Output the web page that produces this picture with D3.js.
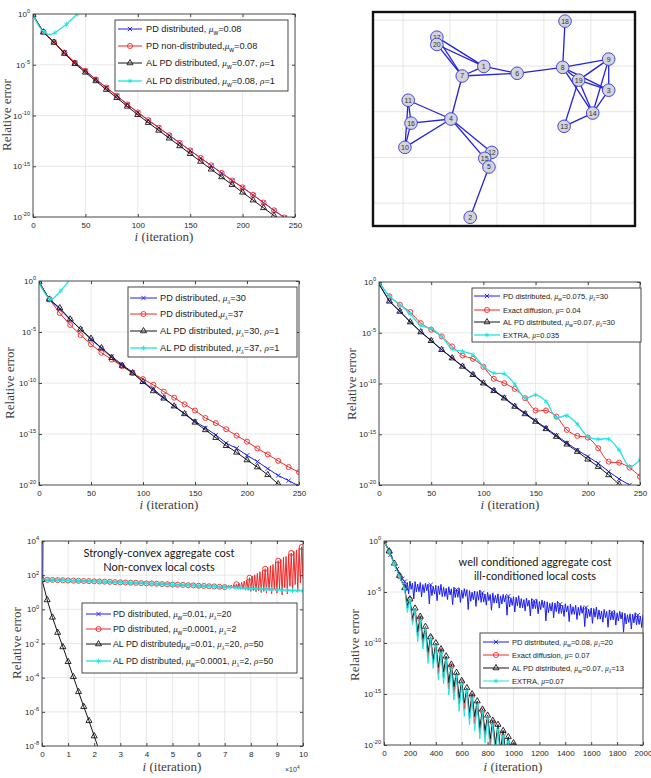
<!DOCTYPE html>
<html>
<head>
<meta charset="utf-8">
<script src="https://cdn.jsdelivr.net/npm/d3@7"></script>
<style>
  body { margin: 0; background: #fff; }
  svg { display: block; }
</style>
</head>
<body>
<svg id="fig" width="651" height="778"></svg>
<script>
// Six-panel figure: five log-scale convergence plots plus the network graph.
// All series values are log10(relative error).

// ---------- data: panel A (mu_w comparison) ----------
const iterA = d3.range(0, 251, 10);
const pdDistA = [-0.15,-1.78,-2.76,-3.8,-4.79,-5.6,-6.44,-7.25,-8.06,-8.9,-9.71,-10.46,-11.2,-11.95,-12.7,-13.45,-14.19,-14.93,-15.67,-16.4,-17.1,-17.84,-18.6,-19.35,-20.06,-20.8];
const pdNonDistA = [-0.1,-1.77,-2.75,-3.8,-4.8,-5.6,-6.45,-7.25,-8.05,-8.9,-9.7,-10.45,-11.2,-11.95,-12.7,-13.44,-14.18,-14.92,-15.66,-16.4,-17.08,-17.82,-18.58,-19.34,-20.05,-20.8];
const alPd07A = [-0.1,-1.8,-2.8,-3.9,-4.9,-5.75,-6.6,-7.45,-8.25,-9.1,-9.93,-10.7,-11.47,-12.24,-13.0,-13.77,-14.53,-15.3,-16.06,-16.82,-17.57,-18.34,-19.1,-19.87,-20.63,-21.4];
const alPd08IterA = [0,3,6,9,11,14,17,21,25,28,32,35,38,42,46];
const alPd08A = [-0.1,-0.7,-1.25,-1.65,-1.8,-1.98,-2.02,-1.85,-1.55,-1.3,-1.02,-0.72,-0.42,-0.03,0.4];

// ---------- data: panel C (mu_lambda comparison) ----------
const iterC = d3.range(0, 251, 10);
const pd30C = [-0.1,-1.8,-2.75,-3.8,-4.74,-5.74,-6.57,-7.4,-8.2,-8.95,-9.9,-10.6,-11.44,-12.27,-13.0,-13.76,-14.4,-15.1,-15.9,-16.4,-17.1,-17.7,-18.4,-19.07,-19.57,-20.1];
const pd37C = [-0.1,-1.8,-3.15,-4.31,-5.3,-6.2,-7.03,-7.7,-8.36,-9.02,-9.62,-10.18,-10.85,-11.44,-12.1,-12.7,-13.43,-13.93,-14.53,-15.16,-15.75,-16.42,-17.0,-17.64,-18.24,-18.74];
const alPd30C = [-0.1,-1.8,-2.65,-3.75,-4.74,-5.64,-6.57,-7.53,-8.29,-9.02,-9.88,-10.78,-11.5,-12.27,-13.03,-13.86,-14.6,-15.36,-16.15,-16.8,-17.55,-18.24,-19.0,-19.9,-20.7,-21.5];
const alPd37IterC = [0,3,6,9,11,13,15,18,21,24,27,30,33];
const alPd37C = [-0.2,-0.75,-1.25,-1.65,-1.8,-1.78,-1.6,-1.3,-0.95,-0.6,-0.2,0.2,0.6];

// ---------- data: panel D (comparison with exact diffusion / EXTRA) ----------
const iterD = d3.range(0, 251, 10);
const pdDistD = [-0.2,-1.9,-2.88,-3.93,-4.9,-5.76,-6.65,-7.47,-8.28,-9.1,-9.92,-10.66,-11.38,-12.2,-12.92,-13.66,-14.38,-15.12,-15.86,-16.56,-17.2,-17.86,-18.68,-19.4,-20.0,-20.7];
const exactDiffD = [0,-1.4,-2.24,-2.96,-4.05,-4.7,-5.36,-6.35,-7.24,-7.57,-8.36,-9.54,-9.97,-10.53,-11.45,-12.66,-12.66,-13.26,-14.57,-15.16,-15.33,-16.38,-17.7,-17.8,-18.29,-19.18];
const alPdD = [-0.2,-1.9,-2.9,-3.95,-4.93,-5.79,-6.68,-7.5,-8.32,-9.14,-9.97,-10.72,-11.45,-12.27,-13.0,-13.75,-14.47,-15.23,-15.99,-16.71,-17.47,-18.19,-19.01,-19.93,-20.8,-21.6];
const extraD = [0,-1.4,-2.24,-3.16,-4.28,-4.6,-5.36,-6.58,-6.84,-7.17,-8.32,-8.98,-9.05,-10.07,-11.45,-11.12,-11.78,-13.36,-13.16,-14.01,-15.23,-15.49,-15.49,-16.55,-18.19,-17.53];

// ---------- data: panel E (non-convex local costs), x in units of 1e4 ----------
const pdFastIterE = [0, 0.03, 0.04];
const pdFastE = [1.74, 1.9, 4.6];
const pdSlowIterE = [0,0.2,0.4,0.6,0.8,1.0,1.2,1.4,1.6,1.8,2.0,2.2,2.4,2.6,2.8,3.0,3.2,3.4,3.6,3.8,4.0,4.2,4.4,4.6,4.8,5.0,5.2,5.4,5.6,5.8,6.0,6.2,6.4,6.6,6.8,
  7.0,7.05,7.1,7.15,7.2,7.25,7.3,7.35,7.4,7.45,7.5,7.55,7.6,7.65,7.7,7.75,7.8,7.85,7.9,7.95,8.0,8.05,8.1,8.15,8.2,8.25,8.3,8.35,8.4,8.45,8.5,8.55,8.6,8.65,8.7,8.75,8.8,8.85,8.9,8.95,
  9.0,9.05,9.1,9.15,9.2,9.25,9.3,9.35,9.4,9.45,9.5,9.55,9.6,9.65,9.7,9.75,9.8,9.85,9.9,9.95,10.0];
const pdSlowE = [1.74,1.73,1.72,1.71,1.70,1.69,1.68,1.67,1.66,1.65,1.64,1.63,1.62,1.61,1.59,1.58,1.57,1.56,1.55,1.53,1.52,1.51,1.50,1.48,1.47,1.45,1.44,1.43,1.41,1.40,1.38,1.37,1.35,1.34,1.32,
  1.30,1.38,1.28,1.40,1.27,1.42,1.26,1.44,1.25,1.47,1.22,1.52,1.20,1.58,1.18,1.66,1.15,1.75,1.12,1.85,1.05,1.95,1.10,2.02,1.02,2.10,1.08,2.20,0.98,2.28,1.05,2.38,0.95,2.45,1.10,2.55,0.92,2.62,1.15,2.78,
  0.95,2.85,1.20,2.92,0.85,3.05,1.25,3.10,0.90,3.22,1.35,3.30,1.00,3.40,1.45,3.48,1.10,3.58,1.55,3.65,1.80];
const pdSlowMarksE = [0,0.2,0.4,0.6,0.8,1.0,1.2,1.4,1.6,1.8,2.0,2.2,2.4,2.6,2.8,3.0,3.2,3.4,3.6,3.8,4.0,4.2,4.4,4.6,4.8,5.0,5.2,5.4,5.6,5.8,6.0,6.2,6.4,6.6,6.8,7.0,7.45,7.95,8.55,9.05,9.55,9.95];
const alFastIterE = [0,0.2,0.4,0.6,0.8,1.0,1.2,1.4,1.6,1.8,2.0,2.2];
const alFastE = [1.74,0.55,-0.47,-1.36,-2.2,-3.07,-3.95,-4.83,-5.7,-6.52,-7.42,-8.3];
const alSlowIterE = d3.range(0, 10.01, 0.2);
const alSlowE = [1.74,1.73,1.72,1.71,1.70,1.69,1.68,1.67,1.66,1.65,1.64,1.63,1.62,1.61,1.59,1.58,1.57,1.56,1.55,1.53,1.52,1.51,1.50,1.48,1.47,1.45,1.44,1.43,1.41,1.40,1.38,1.37,1.35,1.34,1.32,1.30,1.29,1.27,1.26,1.24,1.22,1.21,1.19,1.18,1.16,1.15,1.13,1.12,1.10,1.09,1.08];

// ---------- data: panel F (ill-conditioned local costs) ----------
const pdIterF = [0,20,50,80,100,120,140].concat(d3.range(160, 2001, 10));
const pdF = [0,-0.5,-1.35,-2.2,-2.75,-3.25,-3.7,
  -3.98,-4.88,-4.08,-5.18,-3.93,-4.73,-4.13,-5.68,-3.98,-4.98,
  -4.22,-4.97,-4.07,-5.47,-4.27,-5.07,-4.12,-4.87,-4.22,-6.17,
  -4.30,-5.35,-4.45,-5.20,-4.35,-5.85,-4.40,-5.25,-4.25,-5.45,
  -4.54,-5.44,-4.64,-5.74,-4.49,-5.29,-4.69,-6.24,-4.54,-5.54,
  -4.77,-5.52,-4.62,-6.02,-4.82,-5.62,-4.67,-5.42,-4.77,-6.72,
  -4.86,-5.91,-5.01,-5.76,-4.91,-6.41,-4.96,-5.81,-4.81,-6.01,
  -5.09,-5.99,-5.19,-6.29,-5.04,-5.84,-5.24,-6.79,-5.09,-6.09,
  -5.33,-6.08,-5.18,-6.58,-5.38,-6.18,-5.23,-5.98,-5.33,-7.28,
  -5.41,-6.46,-5.56,-6.31,-5.46,-6.96,-5.51,-6.36,-5.36,-6.56,
  -5.65,-6.55,-5.75,-6.85,-5.60,-6.40,-5.80,-7.35,-5.65,-6.65,
  -5.88,-6.63,-5.73,-7.13,-5.93,-6.73,-5.78,-6.53,-5.88,-7.83,
  -5.97,-7.02,-6.12,-6.87,-6.02,-7.52,-6.07,-6.92,-5.92,-7.12,
  -6.20,-7.10,-6.30,-7.40,-6.15,-6.95,-6.35,-7.90,-6.20,-7.20,
  -6.44,-7.19,-6.29,-7.69,-6.49,-7.29,-6.34,-7.09,-6.44,-8.39,
  -6.52,-7.57,-6.67,-7.42,-6.57,-8.07,-6.62,-7.47,-6.47,-7.67,
  -6.76,-7.66,-6.86,-7.96,-6.71,-7.51,-6.91,-8.46,-6.76,-7.76,
  -6.99,-7.74,-6.84,-8.24,-7.04,-7.84,-6.89,-7.64,-6.99,-8.94,
  -7.08,-8.13,-7.23,-7.98,-7.13,-8.63,-7.18,-8.03,-7.03,-8.23,
  -7.28,-8.18,-7.38,-8.48,-7.23];
const iterF = d3.range(0, 1041, 20);
const exactDiffF = [0,-0.52,-1.05,-1.65,-2.25,-2.85,-3.45,-4.05,-4.65,-6.6,-5.75,-7.9,-6.7,-9.3,-7.6,-10.1,-8.55,-11.4,-9.5,-12.0,-10.15,-13.0,-10.8,-13.4,-11.5,-14.5,-12.3,-14.9,-13.1,-16.0,-13.85,-16.5,-14.55,-17.4,-15.2,-17.9,-15.9,-18.8,-16.65,-19.2,-17.25,-20.0,-17.8,-20.4,-18.3,-21.0,-18.85,-21.3,-19.45,-21.8,-20.05,-22.0,-20.7];
const alPdF = [0,-0.5,-1.0,-1.6,-2.2,-2.8,-3.4,-4.0,-4.6,-6.3,-5.7,-7.6,-6.6,-8.9,-7.4,-9.6,-8.4,-10.9,-9.4,-11.6,-10.0,-12.4,-10.6,-12.8,-11.3,-13.9,-12.1,-14.3,-12.9,-15.4,-13.7,-15.9,-14.4,-16.8,-15.0,-17.2,-15.7,-18.3,-16.5,-18.6,-17.1,-19.4,-17.6,-19.9,-18.0,-20.6,-18.6,-20.8,-19.2,-21.3,-19.8,-21.5,-20.5];
const extraF = [0,-0.55,-1.1,-1.7,-2.3,-2.9,-3.5,-4.1,-4.7,-7.0,-5.8,-8.2,-6.8,-9.9,-7.8,-10.6,-8.7,-12.0,-9.6,-12.5,-10.3,-13.6,-11.0,-14.0,-11.7,-15.1,-12.5,-15.6,-13.3,-16.7,-14.0,-17.2,-14.7,-18.0,-15.4,-18.6,-16.1,-19.4,-16.8,-19.8,-17.4,-20.6,-18.0,-21.0,-18.5,-21.5,-19.1,-21.8,-19.7,-22.4,-20.3,-22.6,-21.0];

// ---------- data: network graph ----------
const nodeIds = [18,17,20,1,6,7,8,9,19,3,14,13,11,16,4,10,12,15,5,2];
const nodeX = [4.45,1.72,1.72,2.72,3.43,2.26,4.40,5.38,4.74,5.38,5.04,4.43,1.11,1.17,2.02,1.04,2.89,2.74,2.83,2.43];
const nodeY = [4.98,4.63,4.47,3.99,3.84,3.78,3.97,4.15,3.69,3.47,2.97,2.68,3.25,2.75,2.84,2.22,2.11,1.98,1.79,0.69];
const edges = [[17,1],[20,1],[17,7],[20,7],[17,20],[1,7],[1,6],[7,6],[6,8],[8,18],[8,9],[8,19],[8,3],[8,14],
  [9,19],[9,3],[9,14],[19,3],[19,14],[19,13],[3,14],[14,13],[7,4],[4,11],[4,16],[4,10],[11,16],[11,10],[16,10],
  [4,12],[4,15],[12,15],[12,5],[15,5],[5,2]];

// ---------- tick values / labels ----------
const iterTicks = [0, 50, 100, 150, 200, 250];
const errTicks = [0, -5, -10, -15, -20];
const bigIterTicks = d3.range(0, 11, 1);
const wideErrTicks = [4, 2, 0, -2, -4, -6, -8];
const longIterTicks = d3.range(0, 2001, 200);
const graphGrid = [1, 2, 3, 4, 5];

const legendA = ['PD distributed, {μ}_{w}=0.08', 'PD non-distributed,{μ}_{w}=0.08', 'AL PD distributed, {μ}_{w}=0.07, {ρ}=1', 'AL PD distributed, {μ}_{w}=0.08, {ρ}=1'];
const legendC = ['PD distributed, {μ}_{λ}=30', 'PD distributed,{μ}_{λ}=37', 'AL PD distributed, {μ}_{λ}=30, {ρ}=1', 'AL PD distributed, {μ}_{λ}=37, {ρ}=1'];
const legendD = ['PD distributed, {μ}_{w}=0.075, {μ}_{λ}=30', 'Exact diffusion, {μ}= 0.04', 'AL PD distributed, {μ}_{w}=0.07, {μ}_{λ}=30', 'EXTRA, {μ}=0.035'];
const legendE = ['PD distributed, {μ}_{w}=0.01, {μ}_{λ}=20', 'PD distributed, {μ}_{w}=0.0001, {μ}_{λ}=2', 'AL PD distributed{μ}_{w}=0.01, {μ}_{λ}=20, {ρ}=50', 'AL PD distributed, {μ}_{w}=0.0001, {μ}_{λ}=2, {ρ}=50'];
const legendF = ['PD distributed, {μ}_{w}=0.08, {μ}_{λ}=20', 'Exact diffusion, {μ}= 0.07', 'AL PD distributed, {μ}_{w}=0.07, {μ}_{λ}=13', 'EXTRA, {μ}=0.07'];
const notesE = ['Strongly-convex aggregate cost', 'Non-convex local costs'];
const notesF = ['well conditioned aggregate cost', 'ill-conditioned local costs'];

// ---------- style ----------
const SANS = "'Liberation Sans', Arial, Helvetica, sans-serif";
const SERIF = "'Liberation Serif', 'Times New Roman', Times, serif";
const NOTE_FONT = "Lato, 'Open Sans', sans-serif";
const BLUE = '#1c1cf0', RED = '#f02828', BLACK = '#141414', CYAN = '#22e2e2';
const GRID = '#e2e2e2', AXIS = '#444';

const MARKERS = {
  x: { type: d3.symbolTimes || d3.symbolCross, size: 14 },
  o: { type: d3.symbolCircle, size: 20 },
  tri: { type: d3.symbolTriangle2 || d3.symbolTriangle, size: 26 },
  star: { type: d3.symbolAsterisk || d3.symbolStar, size: 16 },
};

const svg = d3.select('#fig');

// Tiny markup: {μ} -> italic serif, _{w} -> subscript, ^{5} -> superscript.
function richText(textSel, str, size) {
  const parts = str.split(/(\^\{[^}]*\}|_\{[^}]*\}|\{[^}]*\})/).filter((s) => s.length);
  let shift = 0;
  parts.forEach((p) => {
    const ts = textSel.append('tspan');
    let target = 0;
    let txt = p;
    if (p.startsWith('_{')) {
      txt = p.slice(2, -1);
      target = size * 0.32;
      ts.attr('font-size', size * 0.72);
      if (/[α-ω]/.test(txt)) ts.attr('font-family', SERIF).attr('font-style', 'italic');
    } else if (p.startsWith('^{')) {
      txt = p.slice(2, -1);
      target = -size * 0.45;
      ts.attr('font-size', size * 0.7);
    } else if (p.startsWith('{')) {
      txt = p.slice(1, -1);
      ts.attr('font-family', SERIF).attr('font-style', 'italic');
    }
    ts.text(txt);
    if (target !== shift) {
      ts.attr('dy', target - shift);
      shift = target;
    }
  });
}

function markerPath(kind) {
  const m = MARKERS[kind];
  return d3.symbol().type(m.type).size(m.size)();
}

function drawLegend(lg, series, labels) {
  const g = svg.append('g').attr('class', 'legend');
  g.append('rect')
    .attr('x', lg.x).attr('y', lg.y).attr('width', lg.w).attr('height', lg.h)
    .attr('fill', '#fff').attr('stroke', '#333').attr('stroke-width', 0.9);
  labels.forEach((label, i) => {
    const s = series[i];
    const ry = lg.rows[i];
    g.append('line')
      .attr('x1', lg.line[0]).attr('x2', lg.line[1]).attr('y1', ry).attr('y2', ry)
      .attr('stroke', s.color).attr('stroke-width', s.width || 1);
    g.append('path')
      .attr('transform', `translate(${(lg.line[0] + lg.line[1]) / 2},${ry})`)
      .attr('d', markerPath(s.marker))
      .attr('fill', 'none').attr('stroke', s.color).attr('stroke-width', 0.9);
    const t = g.append('text')
      .attr('x', lg.textX).attr('y', ry + lg.size * 0.35)
      .attr('font-family', SANS).attr('font-size', lg.size).attr('fill', '#1a1a1a');
    richText(t, label, lg.size);
  });
}

function drawLogPanel(p) {
  const { box } = p;
  const g = svg.append('g').attr('transform', `translate(${box.x},${box.y})`);
  const x = d3.scaleLinear().domain(p.xDomain).range([0, box.w]);
  const y = d3.scaleLog().domain([10 ** p.yExp[0], 10 ** p.yExp[1]]).range([box.h, 0]);
  const yTickVals = p.yTicks.map((e) => 10 ** e);

  // grid
  g.append('g').selectAll('line').data(p.xTicks).join('line')
    .attr('x1', (d) => x(d)).attr('x2', (d) => x(d)).attr('y1', 0).attr('y2', box.h)
    .attr('stroke', GRID).attr('stroke-width', 0.8);
  g.append('g').selectAll('line').data(yTickVals).join('line')
    .attr('x1', 0).attr('x2', box.w).attr('y1', (d) => y(d)).attr('y2', (d) => y(d))
    .attr('stroke', GRID).attr('stroke-width', 0.8);

  const clipId = `clip-${p.id}`;
  g.append('clipPath').attr('id', clipId)
    .append('rect').attr('width', box.w).attr('height', box.h);
  const plot = g.append('g').attr('clip-path', `url(#${clipId})`);

  p.series.forEach((s) => {
    const pts = s.x.map((xv, i) => [xv, s.y[i]]);
    const line = d3.line()
      .x((d) => x(d[0]))
      .y((d) => y(10 ** d[1]))
      .curve(s.curve || d3.curveLinear);
    plot.append('path').datum(pts)
      .attr('d', line)
      .attr('fill', 'none')
      .attr('stroke', s.color)
      .attr('stroke-width', s.width || 1)
      .attr('stroke-linejoin', 'round');
    const marked = s.markAt
      ? pts.filter((d) => s.markAt.some((m) => Math.abs(m - d[0]) < 1e-6))
      : pts;
    plot.append('g').selectAll('path').data(marked).join('path')
      .attr('transform', (d) => `translate(${x(d[0])},${y(10 ** d[1])})`)
      .attr('d', markerPath(s.marker))
      .attr('fill', 'none')
      .attr('stroke', s.color)
      .attr('stroke-width', 0.9);
  });

  // axes (MATLAB style: box on, inward ticks)
  const styleAxis = (sel) => {
    sel.attr('font-size', 8).attr('font-family', SANS).attr('color', AXIS);
    sel.select('.domain').remove();
    sel.selectAll('.tick text').attr('fill', '#262626');
  };
  g.append('g').attr('transform', `translate(0,${box.h})`)
    .call(d3.axisBottom(x).tickValues(p.xTicks).tickSize(-3).tickPadding(5).tickFormat(d3.format('d')))
    .call(styleAxis);
  g.append('g')
    .call(d3.axisTop(x).tickValues(p.xTicks).tickSize(-3).tickFormat(''))
    .call(styleAxis);
  g.append('g').attr('transform', `translate(${box.w},0)`)
    .call(d3.axisRight(y).tickValues(yTickVals).tickSize(-3).tickFormat(''))
    .call(styleAxis);
  const yAxis = g.append('g')
    .call(d3.axisLeft(y).tickValues(yTickVals).tickSize(-3).tickPadding(3).tickFormat(() => ''))
    .call(styleAxis);
  yAxis.selectAll('.tick text').each(function (d) {
    const t = d3.select(this);
    t.text(null);
    richText(t, `10^{${Math.round(Math.log10(d))}}`, 8);
  });
  g.append('rect')
    .attr('width', box.w).attr('height', box.h)
    .attr('fill', 'none').attr('stroke', AXIS).attr('stroke-width', 0.9);

  // axis titles
  const xt = svg.append('text')
    .attr('x', p.xLabel.cx).attr('y', p.xLabel.y)
    .attr('text-anchor', 'middle')
    .attr('font-family', SERIF).attr('font-size', 13).attr('fill', '#3c3c3c');
  richText(xt, '{i} (iteration)', 13);
  svg.append('text')
    .attr('transform', `translate(${p.yLabel.x},${p.yLabel.cy}) rotate(-90)`)
    .attr('text-anchor', 'middle')
    .attr('font-family', SERIF).attr('font-size', 13).attr('fill', '#3c3c3c')
    .text('Relative error');

  if (p.notes) {
    p.notes.lines.forEach((txt, i) => {
      svg.append('text')
        .attr('x', p.notes.cx).attr('y', p.notes.y + i * p.notes.dy)
        .attr('text-anchor', 'middle')
        .attr('font-family', NOTE_FONT).attr('font-size', 11).attr('fill', '#151515')
        .text(txt);
    });
  }

  drawLegend(p.legend, p.series, p.legendLabels);
}

// ---------- panel A ----------
drawLogPanel({
  id: 'a',
  box: { x: 33, y: 14, w: 262, h: 203 },
  xDomain: [0, 250], yExp: [-20, 0], xTicks: iterTicks, yTicks: errTicks,
  series: [
    { x: iterA, y: pdDistA, color: BLUE, marker: 'x' },
    { x: iterA, y: pdNonDistA, color: RED, marker: 'o' },
    { x: iterA, y: alPd07A, color: BLACK, marker: 'tri' },
    { x: alPd08IterA, y: alPd08A, color: CYAN, marker: 'star', width: 1.3, markAt: [0, 11, 21, 32, 42] },
  ],
  legend: { x: 115, y: 20, w: 173, h: 71, rows: [29, 46, 63, 81], line: [118, 142], textX: 146, size: 9.2 },
  legendLabels: legendA,
  xLabel: { cx: 164, y: 241 },
  yLabel: { x: 11, cy: 115 },
});

// ---------- panel B: network ----------
(function drawGraph() {
  const gx = d3.scaleLinear().domain([0.36, 5.94]).range([373, 635]);
  const gy = d3.scaleLinear().domain([0.5, 5.18]).range([226, 12]);
  const g = svg.append('g');
  g.append('clipPath').attr('id', 'clip-graph')
    .append('rect').attr('x', 373).attr('y', 12).attr('width', 262).attr('height', 214);
  const inner = g.append('g').attr('clip-path', 'url(#clip-graph)');
  inner.selectAll('line.gx').data(graphGrid).join('line').attr('class', 'gx')
    .attr('x1', (d) => gx(d)).attr('x2', (d) => gx(d)).attr('y1', 12).attr('y2', 226)
    .attr('stroke', GRID).attr('stroke-width', 0.9);
  inner.selectAll('line.gy').data(graphGrid).join('line').attr('class', 'gy')
    .attr('y1', (d) => gy(d)).attr('y2', (d) => gy(d)).attr('x1', 373).attr('x2', 635)
    .attr('stroke', GRID).attr('stroke-width', 0.9);

  const pos = new Map(nodeIds.map((id, i) => [id, [nodeX[i], nodeY[i]]]));
  inner.selectAll('line.edge').data(edges).join('line').attr('class', 'edge')
    .attr('x1', (d) => gx(pos.get(d[0])[0])).attr('y1', (d) => gy(pos.get(d[0])[1]))
    .attr('x2', (d) => gx(pos.get(d[1])[0])).attr('y2', (d) => gy(pos.get(d[1])[1]))
    .attr('stroke', '#2222dd').attr('stroke-width', 1.3);
  const nodes = inner.selectAll('g.node').data(nodeIds).join('g').attr('class', 'node')
    .attr('transform', (d) => `translate(${gx(pos.get(d)[0])},${gy(pos.get(d)[1])})`);
  nodes.append('circle').attr('r', 6.3)
    .attr('fill', '#d3d3d9').attr('stroke', '#4545e0').attr('stroke-width', 1);
  nodes.append('text').attr('text-anchor', 'middle').attr('dy', '0.35em')
    .attr('font-family', SANS).attr('font-size', 7).attr('fill', '#333')
    .text((d) => d);
  g.append('rect').attr('x', 373).attr('y', 12).attr('width', 262).attr('height', 214)
    .attr('fill', 'none').attr('stroke', '#111').attr('stroke-width', 2.4);
})();

// ---------- panel C ----------
drawLogPanel({
  id: 'c',
  box: { x: 39, y: 281, w: 260, h: 204 },
  xDomain: [0, 250], yExp: [-20, 0], xTicks: iterTicks, yTicks: errTicks,
  series: [
    { x: iterC, y: pd30C, color: BLUE, marker: 'x' },
    { x: iterC, y: pd37C, color: RED, marker: 'o' },
    { x: iterC, y: alPd30C, color: BLACK, marker: 'tri' },
    { x: alPd37IterC, y: alPd37C, color: CYAN, marker: 'star', width: 1.3, markAt: [0, 11, 21] },
  ],
  legend: { x: 128, y: 287, w: 169, h: 70, rows: [298, 314, 331, 348], line: [130, 157], textX: 160, size: 9.2 },
  legendLabels: legendC,
  xLabel: { cx: 169, y: 509 },
  yLabel: { x: 14, cy: 383 },
});

// ---------- panel D ----------
drawLogPanel({
  id: 'd',
  box: { x: 379, y: 282, w: 261, h: 203 },
  xDomain: [0, 250], yExp: [-20, 0], xTicks: iterTicks, yTicks: errTicks,
  series: [
    { x: iterD, y: pdDistD, color: BLUE, marker: 'x' },
    { x: iterD, y: exactDiffD, color: RED, marker: 'o', curve: d3.curveCatmullRom },
    { x: iterD, y: alPdD, color: BLACK, marker: 'tri' },
    { x: iterD, y: extraD, color: CYAN, marker: 'star', width: 1.3, curve: d3.curveCatmullRom },
  ],
  legend: { x: 472, y: 288, w: 169, h: 54, rows: [296, 310, 322, 335], line: [474, 500], textX: 503, size: 7.5 },
  legendLabels: legendD,
  xLabel: { cx: 510, y: 509 },
  yLabel: { x: 356, cy: 384 },
});

// ---------- panel E ----------
drawLogPanel({
  id: 'e',
  box: { x: 42, y: 541, w: 261, h: 205 },
  xDomain: [0, 10], yExp: [-8, 4], xTicks: bigIterTicks, yTicks: wideErrTicks,
  series: [
    { x: pdFastIterE, y: pdFastE, color: BLUE, marker: 'x', markAt: [] },
    { x: pdSlowIterE, y: pdSlowE, color: RED, marker: 'o', markAt: pdSlowMarksE },
    { x: alFastIterE, y: alFastE, color: BLACK, marker: 'tri' },
    { x: alSlowIterE, y: alSlowE, color: CYAN, marker: 'star', width: 1.3 },
  ],
  legend: { x: 82, y: 603, w: 215, h: 70, rows: [614, 629, 644, 661], line: [86, 111], textX: 113, size: 8.8 },
  legendLabels: legendE,
  xLabel: { cx: 172, y: 771 },
  yLabel: { x: 21, cy: 643 },
  notes: { cx: 159, y: 557, dy: 13.5, lines: notesE },
});
{
  const t = svg.append('text').attr('x', 285).attr('y', 772)
    .attr('font-family', SANS).attr('font-size', 7).attr('fill', '#333');
  richText(t, '×10^{4}', 7);
}

// ---------- panel F ----------
drawLogPanel({
  id: 'f',
  box: { x: 384, y: 541, w: 259, h: 204 },
  xDomain: [0, 2000], yExp: [-20, 0], xTicks: longIterTicks, yTicks: errTicks,
  series: [
    { x: pdIterF, y: pdF, color: BLUE, marker: 'x', markAt: [0, 50, 100, 140].concat(d3.range(160, 2001, 200)) },
    { x: iterF, y: exactDiffF, color: RED, marker: 'o', markAt: d3.range(40, 1041, 80) },
    { x: iterF, y: alPdF, color: BLACK, marker: 'tri', markAt: d3.range(0, 1041, 40) },
    { x: iterF, y: extraF, color: CYAN, marker: 'star', markAt: d3.range(0, 1041, 40) },
  ],
  legend: { x: 480, y: 633, w: 163, h: 55, rows: [642, 655, 668, 681], line: [483, 509], textX: 512, size: 7.5 },
  legendLabels: legendF,
  xLabel: { cx: 513, y: 771 },
  yLabel: { x: 359, cy: 645 },
  notes: { cx: 535, y: 566, dy: 13.5, lines: notesF },
});
</script>
</body>
</html>
